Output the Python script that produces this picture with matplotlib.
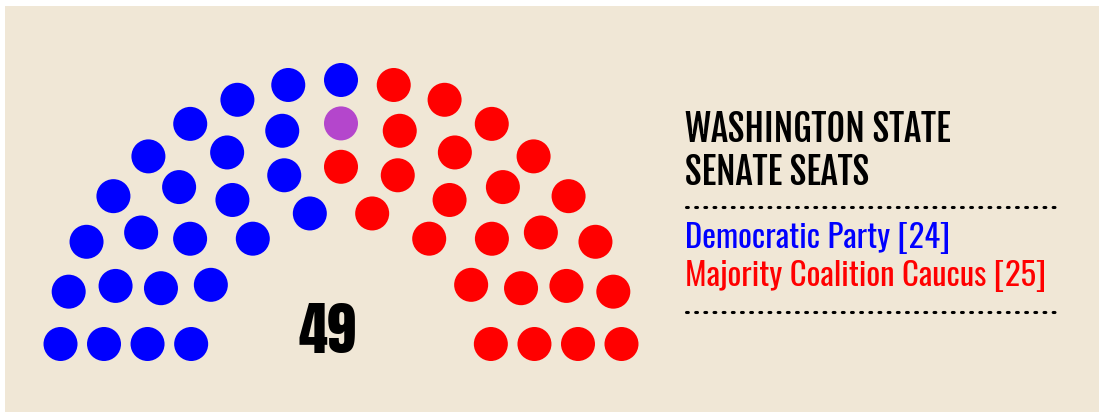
import numpy as np
import matplotlib

matplotlib.use("Agg")

import matplotlib.pyplot as plt
from matplotlib.patches import Circle, Rectangle

# Seat groups in the order they fill the hemicycle, left to right.
SEAT_GROUPS = ["Democratic Party", "Democrat caucusing with MCC", "Majority Coalition Caucus"]
SEAT_COUNTS = [24, 1, 24]
SEAT_COLORS = ["#0000ff", "#b446cc", "#ff0000"]

# Legend entries (the purple seat counts towards the coalition).
LEGEND_LABELS = ["Democratic Party", "Majority Coalition Caucus"]
LEGEND_TOTALS = [24, 25]
LEGEND_COLORS = ["#0000ff", "#ff0000"]

TITLE_LINES = ["WASHINGTON STATE", "SENATE SEATS"]
TOTAL_SEATS = sum(SEAT_COUNTS)

# Hemicycle layout: seats per row, outermost first.
ROW_SEATS = [17, 13, 11, 8]

BG = "#f0e7d6"
W, H = 1099, 412

fig = plt.figure(figsize=(W / 100, H / 100), dpi=100)
fig.patch.set_facecolor("white")
ax = fig.add_axes([0, 0, 1, 1])
ax.set_xlim(0, W)
ax.set_ylim(H, 0)
ax.axis("off")
ax.add_patch(Rectangle((5, 6), W, H, facecolor=BG, edgecolor="none", zorder=0))

# geometry (pixel units)
cx, cy = 341, 361
r_outer, r_step = 281, 43.4
lift = 17  # bottom row sits this far above the arc centre
dot_r = 17

seats = []
for i, n in enumerate(ROW_SEATS):
    r = r_outer - i * r_step
    a0 = np.degrees(np.arcsin(lift / r))
    for a in np.linspace(180 - a0, a0, n):
        seats.append((round(a, 6), r))
# fill by angle, outer rows first on ties
seats.sort(key=lambda s: (-s[0], -s[1]))

colors = []
for c, k in zip(SEAT_COLORS, SEAT_COUNTS):
    colors += [c] * k

for (a, r), c in zip(seats, colors):
    t = np.radians(a)
    ax.add_patch(Circle((cx + r * np.cos(t), cy - r * np.sin(t)), dot_r,
                        facecolor=c, edgecolor="none", zorder=2))

ax.text(327, 353, str(TOTAL_SEATS), ha="center", va="baseline", fontsize=42,
        family=["Anton", "DejaVu Sans"], color="black")

for k, line in enumerate(TITLE_LINES):
    ax.text(685, 142 + k * 43, line, ha="left", va="baseline", fontsize=26,
            family=["Fjalla One", "DejaVu Sans"], color="black")

for y in (207, 312):
    ax.plot([686, 1060], [y, y], color="black", linestyle=(0, (0.6, 2.4)),
            linewidth=2.2, solid_capstyle="round", dash_capstyle="round")

for k, (lab, tot, col) in enumerate(zip(LEGEND_LABELS, LEGEND_TOTALS, LEGEND_COLORS)):
    ax.text(685, 248 + k * 38.5, f"{lab} [{tot}]", ha="left", va="baseline",
            fontsize=23.5, family=["Oswald", "DejaVu Sans"], color=col)

fig.savefig("out.png", dpi=100, facecolor="white")
